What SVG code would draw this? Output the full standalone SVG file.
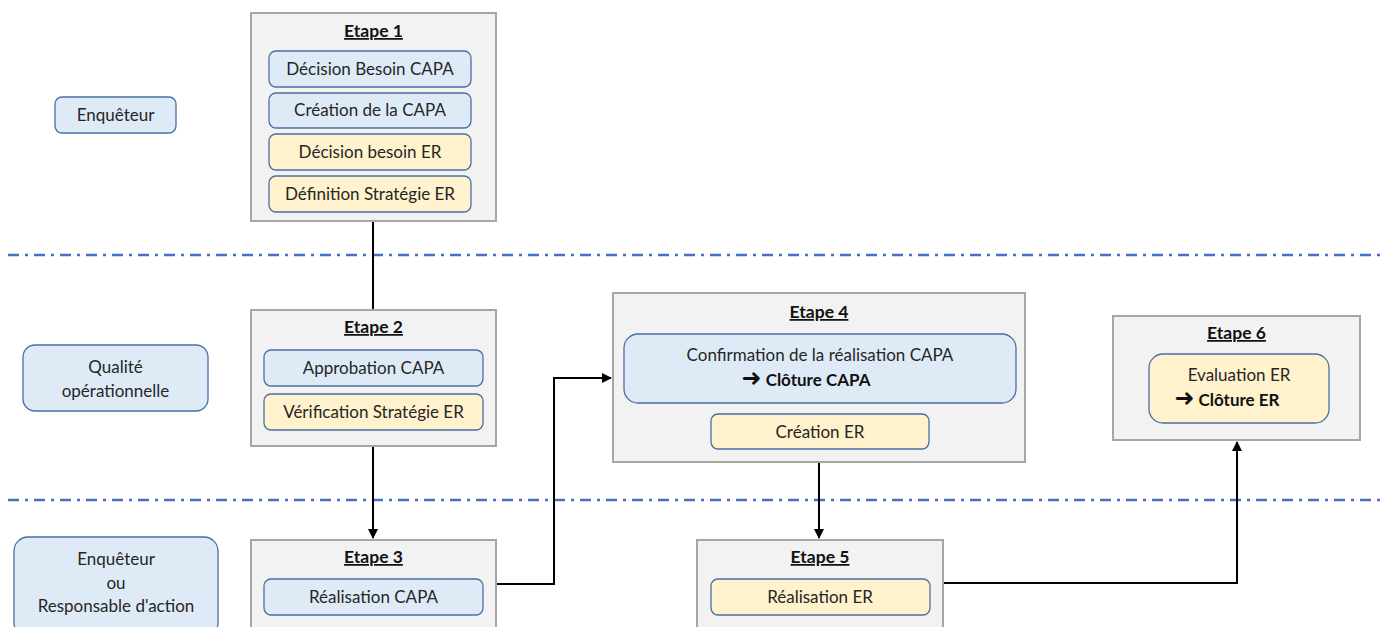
<svg xmlns="http://www.w3.org/2000/svg" width="1387" height="627" viewBox="0 0 1387 627">
  <style>
    .stage { fill: #F2F2F2; stroke: #A6A6A6; stroke-width: 2; }
    .blue { fill: #DEEBF7; stroke: #4A6FA5; stroke-width: 1.3; }
    .yellow { fill: #FFF2CC; stroke: #4A6FA5; stroke-width: 1.3; }
    text { font-family: Lato, "Open Sans", "Liberation Sans", sans-serif; fill: #262626; text-anchor: middle; }
    .title { font-size: 17.5px; font-weight: bold; text-decoration: underline; fill: #111; }
    .lbl { font-size: 17px; }
    .strong { font-weight: bold; fill: #111; }
    .sym { font-family: "DejaVu Sans", sans-serif; font-weight: bold; font-size: 24px; fill: #111; }
    .lane { stroke: #4472C4; stroke-width: 2.5; stroke-dasharray: 11 6 3 6; fill: none; }
    .wire { stroke: #000; stroke-width: 2; fill: none; }
  </style>
  <defs>
    <marker id="arrow" viewBox="0 0 10 10" refX="9" refY="5" markerWidth="5" markerHeight="5" orient="auto" markerUnits="strokeWidth">
      <path d="M0,0 L10,5 L0,10 z" fill="#000"/>
    </marker>
  </defs>

  <rect width="1387" height="627" fill="#FFFFFF"/>

  <!-- swimlane separators -->
  <g id="lanes">
    <line class="lane" x1="8" y1="255" x2="1382" y2="255"/>
    <line class="lane" x1="8" y1="500" x2="1382" y2="500"/>
  </g>

  <!-- role labels -->
  <g id="role-enqueteur">
    <rect class="blue" x="55" y="97" width="121" height="36" rx="7"/>
    <text class="lbl" x="115.5" y="121">Enquêteur</text>
  </g>
  <g id="role-qualite">
    <rect class="blue" x="23" y="345" width="185" height="66" rx="12"/>
    <text class="lbl" x="115.5" y="373">Qualité</text>
    <text class="lbl" x="115.5" y="397">opérationnelle</text>
  </g>
  <g id="role-responsable">
    <rect class="blue" x="14" y="537" width="204" height="100" rx="14"/>
    <text class="lbl" x="116" y="565">Enquêteur</text>
    <text class="lbl" x="116" y="589">ou</text>
    <text class="lbl" x="116" y="612">Responsable d'action</text>
  </g>

  <!-- connectors -->
  <g id="connectors">
    <line class="wire" x1="373" y1="222" x2="373" y2="310"/>
    <line class="wire" x1="373" y1="446" x2="373" y2="538" marker-end="url(#arrow)"/>
    <polyline class="wire" points="496,584 554,584 554,378 611,378" marker-end="url(#arrow)"/>
    <line class="wire" x1="819" y1="462" x2="819" y2="538" marker-end="url(#arrow)"/>
    <polyline class="wire" points="943,583 1237,583 1237,442" marker-end="url(#arrow)"/>
  </g>

  <g id="etape1">
    <rect class="stage" x="251" y="13" width="245" height="208"/>
    <text class="title" x="373.5" y="37">Etape 1</text>
    <rect class="blue" x="269" y="51" width="202" height="36" rx="7"/>
    <text class="lbl" x="370" y="75">Décision Besoin CAPA</text>
    <rect class="blue" x="269" y="93" width="202" height="35" rx="7"/>
    <text class="lbl" x="370" y="116">Création de la CAPA</text>
    <rect class="yellow" x="269" y="134" width="202" height="36" rx="7"/>
    <text class="lbl" x="370" y="158">Décision besoin ER</text>
    <rect class="yellow" x="269" y="176" width="202" height="36" rx="7"/>
    <text class="lbl" x="370" y="200">Définition Stratégie ER</text>
  </g>

  <g id="etape2">
    <rect class="stage" x="251" y="310" width="245" height="136"/>
    <text class="title" x="373.5" y="333">Etape 2</text>
    <rect class="blue" x="264" y="350" width="219" height="36" rx="7"/>
    <text class="lbl" x="373.5" y="374">Approbation CAPA</text>
    <rect class="yellow" x="264" y="394" width="219" height="36" rx="7"/>
    <text class="lbl" x="373.5" y="418">Vérification Stratégie ER</text>
  </g>

  <g id="etape3">
    <rect class="stage" x="251" y="540" width="245" height="100"/>
    <text class="title" x="373.5" y="563">Etape 3</text>
    <rect class="blue" x="264" y="579" width="219" height="36" rx="7"/>
    <text class="lbl" x="373.5" y="603">Réalisation CAPA</text>
  </g>

  <g id="etape4">
    <rect class="stage" x="613" y="293" width="412" height="169"/>
    <text class="title" x="819" y="318">Etape 4</text>
    <rect class="blue" x="624" y="334" width="392" height="69" rx="14"/>
    <text class="lbl" x="820" y="361">Confirmation de la réalisation CAPA</text>
    <text class="lbl" x="806" y="386"><tspan class="sym">➜</tspan><tspan class="strong" dx="4">Clôture CAPA</tspan></text>
    <rect class="yellow" x="711" y="414" width="218" height="35" rx="7"/>
    <text class="lbl" x="820" y="438">Création ER</text>
  </g>

  <g id="etape5">
    <rect class="stage" x="697" y="540" width="246" height="100"/>
    <text class="title" x="820" y="563">Etape 5</text>
    <rect class="yellow" x="711" y="579" width="219" height="36" rx="7"/>
    <text class="lbl" x="820" y="603">Réalisation ER</text>
  </g>

  <g id="etape6">
    <rect class="stage" x="1113" y="316" width="247" height="124"/>
    <text class="title" x="1236.5" y="339">Etape 6</text>
    <rect class="yellow" x="1149" y="354" width="180" height="69" rx="14"/>
    <text class="lbl" x="1239" y="381">Evaluation ER</text>
    <text class="lbl" x="1227" y="406"><tspan class="sym">➜</tspan><tspan class="strong" dx="4">Clôture ER</tspan></text>
  </g>
</svg>
